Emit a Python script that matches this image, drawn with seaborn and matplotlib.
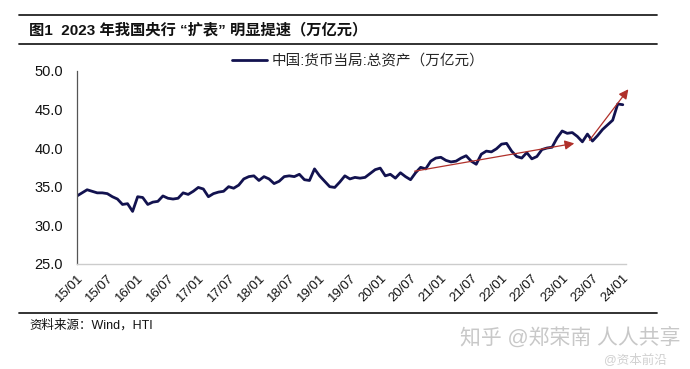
import numpy as np
import pandas as pd
import matplotlib
matplotlib.use("Agg")
import matplotlib.pyplot as plt
import seaborn as sns

# monthly series 2015/01 .. 2024/01 (万亿元)
vals_2015 = [33.8, 34.2, 34.6, 34.4, 34.2, 34.2, 34.1, 33.7, 33.4, 32.7, 32.8, 31.8]
vals_2016 = [33.7, 33.6, 32.7, 33.0, 33.1, 33.8, 33.5, 33.4, 33.5, 34.2, 34.0, 34.4]
vals_2017 = [34.9, 34.7, 33.7, 34.1, 34.3, 34.4, 35.0, 34.8, 35.2, 36.0, 36.3, 36.4]
vals_2018 = [35.8, 36.3, 36.0, 35.4, 35.7, 36.3, 36.4, 36.3, 36.6, 35.9, 35.8, 37.3]
vals_2019 = [36.4, 35.7, 35.0, 34.9, 35.6, 36.4, 36.0, 36.2, 36.1, 36.2, 36.7, 37.2]
vals_2020 = [37.4, 36.4, 36.6, 36.1, 36.8, 36.3, 35.9, 36.8, 37.5, 37.3, 38.3, 38.7]
vals_2021 = [38.8, 38.4, 38.2, 38.3, 38.7, 39.0, 38.3, 37.9, 39.2, 39.6, 39.5, 39.9]
vals_2022 = [40.5, 40.6, 39.6, 38.9, 38.7, 39.4, 38.6, 38.9, 39.8, 40.0, 40.1, 41.3]
vals_2023 = [42.2, 41.9, 42.0, 41.5, 40.8, 41.8, 40.9, 41.6, 42.4, 43.0, 43.6, 45.7]
vals_2024 = [45.6]

total_assets = (vals_2015 + vals_2016 + vals_2017 + vals_2018 + vals_2019
                + vals_2020 + vals_2021 + vals_2022 + vals_2023 + vals_2024)
months = list(range(len(total_assets)))

tick_labels = ["15/01", "15/07", "16/01", "16/07", "17/01", "17/07", "18/01",
               "18/07", "19/01", "19/07", "20/01", "20/07", "21/01", "21/07",
               "22/01", "22/07", "23/01", "23/07", "24/01"]
y_ticks = [25.0, 30.0, 35.0, 40.0, 45.0, 50.0]

# trend arrows (month index, value)
arrow1 = [(66.8, 37.0), (98.4, 40.6)]
arrow2 = [(101.4, 41.0), (109.1, 47.6)]

series_name = "中国:货币当局:总资产（万亿元）"

df = pd.DataFrame({"month": months, "value": total_assets})

sns.set_style("white")
plt.rcParams["font.family"] = ["Liberation Sans", "Noto Sans CJK SC", "DejaVu Sans"]

fig = plt.figure(figsize=(6.9, 3.69), dpi=100)
ax = fig.add_axes([0.1116, 0.2846, 0.7954, 0.5238])

sns.lineplot(data=df, x="month", y="value", ax=ax, color="#12124f",
             linewidth=2.0, label=series_name)

ax.set_xlim(0, 108.6)
ax.set_ylim(25, 50)
ax.set_yticks(y_ticks)
ax.set_yticklabels([f"{v:.1f}" for v in y_ticks], fontsize=10.5, color="#111111")
ax.set_xticks(range(0, len(tick_labels) * 6, 6))
ax.set_xticklabels(tick_labels, rotation=45, ha="right", rotation_mode="anchor",
                   fontsize=9.5, color="#111111")
ax.set_xlabel("")
ax.set_ylabel("")

for s in ["top", "right"]:
    ax.spines[s].set_visible(False)
ax.spines["left"].set_color("#555555")
ax.spines["left"].set_linewidth(0.9)
ax.spines["bottom"].set_color("#cccccc")
ax.spines["bottom"].set_linewidth(1.0)
ax.tick_params(axis="y", direction="out", length=4, color="#555555", pad=6)
ax.tick_params(axis="x", direction="out", length=3, color="#cccccc", pad=3)

leg = ax.legend(loc="center left", bbox_to_anchor=(232 / 690, 1 - 61 / 369),
                bbox_transform=fig.transFigure, frameon=False, borderpad=0,
                borderaxespad=0, fontsize=10.5, handlelength=2.4,
                handletextpad=0.3)

for a in (arrow1, arrow2):
    ax.annotate("", xy=a[1], xytext=a[0], annotation_clip=False,
                arrowprops=dict(arrowstyle="-|>", color="#b0302a", lw=0.9,
                                mutation_scale=14, shrinkA=0, shrinkB=0))

# header / footer rules and texts
for yy in (1 - 15.3 / 369, 1 - 43.7 / 369, 1 - 313 / 369):
    fig.add_artist(plt.Line2D([19 / 690, 657 / 690], [yy, yy], color="#222222",
                              lw=1.3, transform=fig.transFigure))

fig.text(29 / 690, 1 - 30 / 369, "图1  2023 年我国央行 “扩表” 明显提速（万亿元）",
         fontsize=11, fontweight="bold", va="center", ha="left", color="#111111")
fig.text(29 / 690, 1 - 325 / 369, "资料来源：Wind，HTI", fontsize=9,
         va="center", ha="left", color="#111111")

# watermark
fig.text(460 / 690, 1 - 338 / 369, "知乎 @郑荣南 人人共享", fontsize=15,
         va="center", ha="left", color="#c8c8c8")
fig.text(604 / 690, 1 - 360 / 369, "@资本前沿", fontsize=9,
         va="center", ha="left", color="#d0d0d0")

fig.savefig("out.png", dpi=100)
